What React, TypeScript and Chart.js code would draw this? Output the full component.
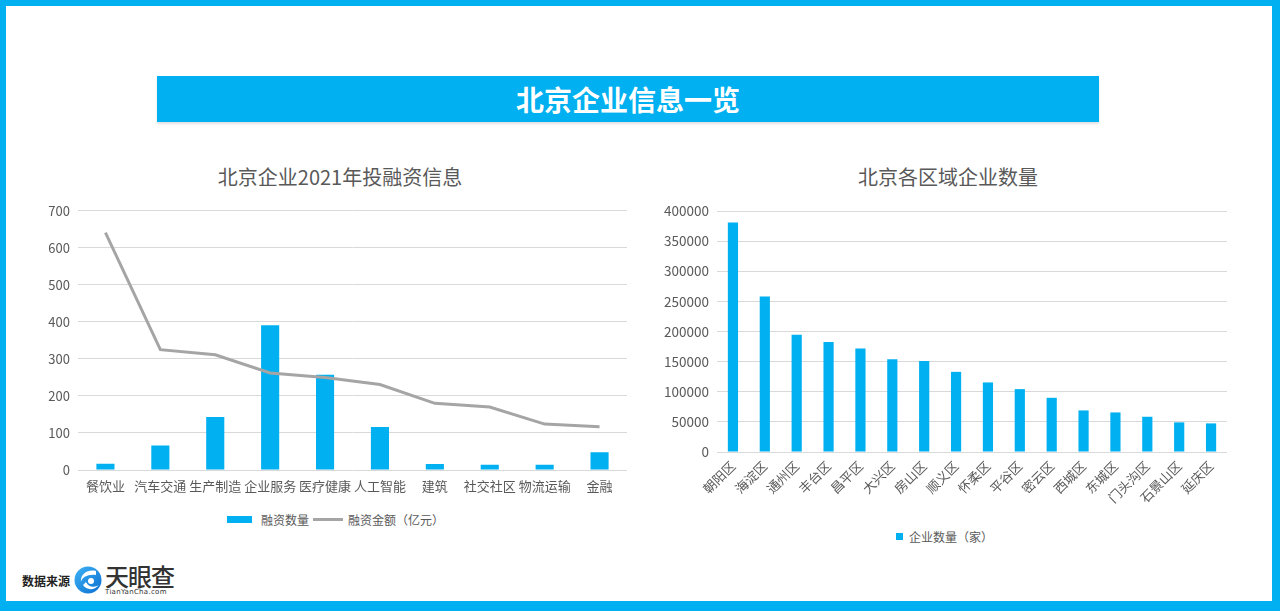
import React, { useEffect, useRef } from "react";
import { Chart, registerables } from "chart.js";

Chart.register(...registerables);

const industryLabels = ["餐饮业", "汽车交通", "生产制造", "企业服务", "医疗健康", "人工智能", "建筑", "社交社区", "物流运输", "金融"];
const financingCount = [17, 66, 143, 391, 257, 116, 16, 14, 14, 48];
const financingAmount = [641, 325, 311, 262, 250, 231, 180, 170, 124, 117];

const districtLabels = ["朝阳区", "海淀区", "通州区", "丰台区", "昌平区", "大兴区", "房山区", "顺义区", "怀柔区", "平谷区", "密云区", "西城区", "东城区", "门头沟区", "石景山区", "延庆区"];
const districtCounts = [381000, 258000, 194500, 182800, 171800, 154100, 151300, 133100, 115500, 104400, 90000, 69000, 65700, 58500, 49200, 47500];

const BLUE = "#00B0F0";
const GRAY = "#A5A5A5";
const TEXT = "#595959";
const FONT = "'Noto Sans CJK SC', 'Noto Sans', sans-serif";

function useChart(ref: React.RefObject<HTMLCanvasElement>, build: () => any) {
  useEffect(() => {
    if (!ref.current) return;
    const chart = new Chart(ref.current, build());
    return () => chart.destroy();
  }, []);
}

function LeftChart() {
  const ref = useRef<HTMLCanvasElement>(null);
  useChart(ref, () => ({
    type: "bar",
    data: {
      labels: industryLabels,
      datasets: [
        {
          type: "bar",
          label: "融资数量",
          data: financingCount,
          backgroundColor: BLUE,
          barPercentage: 0.33,
          categoryPercentage: 1,
          order: 2,
        },
        {
          type: "line",
          label: "融资金额（亿元）",
          data: financingAmount,
          borderColor: GRAY,
          borderWidth: 3,
          pointRadius: 0,
          tension: 0,
          order: 1,
        },
      ],
    },
    options: {
      responsive: false,
      animation: false,
      devicePixelRatio: 1,
      layout: { padding: { top: 10, right: 13, left: 0, bottom: 0 } },
      plugins: { legend: { display: false }, title: { display: false }, tooltip: { enabled: false } },
      scales: {
        x: {
          grid: { display: false, drawTicks: false },
          border: { display: false },
          ticks: { color: TEXT, font: { family: FONT, size: 13 }, padding: 8, maxRotation: 0, autoSkip: false },
          afterFit: (s: any) => { s.height = 30; },
        },
        y: {
          min: 0,
          max: 700,
          ticks: { stepSize: 100, color: TEXT, font: { family: FONT, size: 13 }, padding: 8 },
          grid: { color: "#D9D9D9", drawTicks: false },
          border: { display: false },
          afterFit: (s: any) => { s.width = 78; },
        },
      },
    },
  }));
  return <canvas ref={ref} width={640} height={305} style={{ position: "absolute", left: 0, top: 195 }} />;
}

function RightChart() {
  const ref = useRef<HTMLCanvasElement>(null);
  useChart(ref, () => ({
    type: "bar",
    data: {
      labels: districtLabels,
      datasets: [
        {
          label: "企业数量（家）",
          data: districtCounts,
          backgroundColor: BLUE,
          barPercentage: 0.32,
          categoryPercentage: 1,
        },
      ],
    },
    options: {
      responsive: false,
      animation: false,
      devicePixelRatio: 1,
      layout: { padding: { top: 10, right: 53, left: 0, bottom: 0 } },
      plugins: { legend: { display: false }, title: { display: false }, tooltip: { enabled: false } },
      scales: {
        x: {
          grid: { display: false, drawTicks: false },
          border: { display: false },
          ticks: { color: TEXT, font: { family: FONT, size: 13 }, padding: 6, minRotation: 45, maxRotation: 45, autoSkip: false },
          afterFit: (s: any) => { s.height = 68; },
        },
        y: {
          min: 0,
          max: 400000,
          ticks: {
            stepSize: 50000,
            color: TEXT,
            font: { family: FONT, size: 13.5 },
            padding: 8,
            callback: (v: any) => String(v),
          },
          grid: { color: "#D9D9D9", drawTicks: false },
          border: { display: false },
          afterFit: (s: any) => { s.width = 77; },
        },
      },
    },
  }));
  return <canvas ref={ref} width={640} height={325} style={{ position: "absolute", left: 640, top: 195 }} />;
}

function Logo() {
  return (
    <div style={{ position: "absolute", left: 22, top: 560, height: 40, display: "flex", alignItems: "center" }}>
      <span style={{ fontFamily: FONT, fontSize: 12, fontWeight: 700, color: "#222", marginRight: 4 }}>数据来源</span>
      <svg width="28" height="30" viewBox="0 0 28 30">
        <defs>
          <linearGradient id="lg" x1="0" y1="0" x2="1" y2="1">
            <stop offset="0" stopColor="#3fb3f5" />
            <stop offset="1" stopColor="#0a6fd1" />
          </linearGradient>
        </defs>
        <circle cx="14" cy="15" r="13.5" fill="url(#lg)" />
        <path d="M22 6 C14 4 6 9 7 17 C8 12 14 9 22 10 Z" fill="#fff" />
        <path d="M9 20 C12 25 20 26 25 20 C20 23 14 22 12 17 Z" fill="#fff" />
        <circle cx="17" cy="16" r="3" fill="#fff" />
      </svg>
      <div style={{ marginLeft: 3, display: "flex", flexDirection: "column", lineHeight: 1 }}>
        <span style={{ fontFamily: FONT, fontSize: 24, fontWeight: 500, color: "#333", letterSpacing: -1 }}>天眼查</span>
        <span style={{ fontFamily: "'DejaVu Sans', sans-serif", fontSize: 7, color: "#333", marginTop: 1, letterSpacing: 0.3 }}>TianYanCha.com</span>
      </div>
    </div>
  );
}

export default function App() {
  return (
    <div
      style={{
        position: "absolute",
        left: 0,
        top: 0,
        width: 1280,
        height: 611,
        boxSizing: "border-box",
        borderStyle: "solid",
        borderColor: BLUE,
        borderWidth: "6px 8px 10px 6px",
        background: "#fff",
        overflow: "hidden",
        fontFamily: FONT,
      }}
    >
      <div style={{ position: "absolute", left: 0, top: 0, width: 1280, height: 611, marginLeft: -6, marginTop: -6 }}>
        <div
          style={{
            position: "absolute",
            left: 157,
            top: 76,
            width: 942,
            height: 46,
            background: BLUE,
            color: "#fff",
            fontSize: 28,
            fontWeight: 700,
            display: "flex",
            alignItems: "center",
            justifyContent: "center",
            boxShadow: "0 2px 2px rgba(0,0,0,0.12)",
          }}
        >
          北京企业信息一览
        </div>
        <div style={{ position: "absolute", left: 140, width: 400, top: 163, textAlign: "center", fontSize: 20, color: TEXT, lineHeight: "28px" }}>
          北京企业2021年投融资信息
        </div>
        <div style={{ position: "absolute", left: 748, width: 400, top: 163, textAlign: "center", fontSize: 20, color: TEXT, lineHeight: "28px" }}>
          北京各区域企业数量
        </div>
        <LeftChart />
        <RightChart />
        <div style={{ position: "absolute", left: 227, top: 509, height: 20, display: "flex", alignItems: "center", fontSize: 12, color: TEXT }}>
          <span style={{ display: "inline-block", width: 25, height: 7, background: BLUE, marginRight: 9 }} />
          <span>融资数量</span>
          <span style={{ display: "inline-block", width: 30, height: 3, background: GRAY, margin: "0 5px 0 4px" }} />
          <span>融资金额（亿元）</span>
        </div>
        <div style={{ position: "absolute", left: 896, top: 526, height: 20, display: "flex", alignItems: "center", fontSize: 12, color: TEXT }}>
          <span style={{ display: "inline-block", width: 7, height: 7, background: BLUE, marginRight: 6 }} />
          <span>企业数量（家）</span>
        </div>
        <Logo />
      </div>
    </div>
  );
}
